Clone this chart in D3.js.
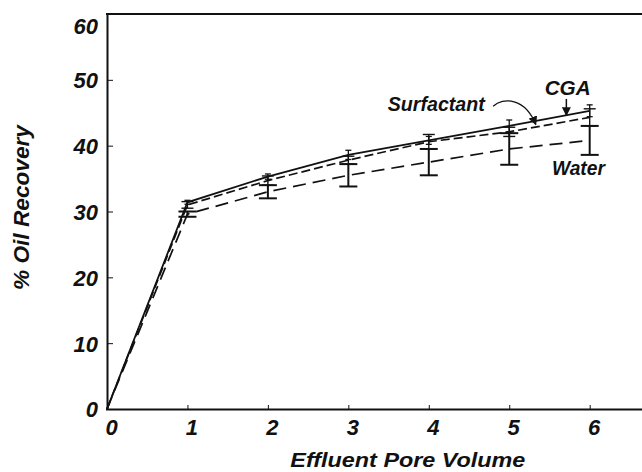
<!DOCTYPE html>
<html>
<head>
<meta charset="utf-8">
<script src="https://cdn.jsdelivr.net/npm/d3@7/dist/d3.min.js"></script>
<style>
  html, body { margin: 0; padding: 0; background: #fff; }
  svg { display: block; }
  text { font-family: "Liberation Sans", Arial, Helvetica, sans-serif; font-weight: bold; font-style: italic; fill: #111; }
</style>
</head>
<body>
<svg id="chart" width="642" height="472"></svg>
<script>
// ---- data ----
const poreVolume = [0, 1, 2, 3, 4, 5, 6];
const cgaValues = [0, 31.4, 35.3, 38.6, 40.8, 43.0, 45.3];
const cgaErrors = [0, 0.3, 0.4, 0.7, 0.6, 0.9, 0.9];
const surfactantValues = [0, 31.0, 34.7, 37.8, 40.6, 42.1, 44.3];
const surfactantErrors = [0, 0.5, 0.7, 0.6, 1.1, 0.7, 1.3];
const waterValues = [0, 29.6, 33.0, 35.5, 37.5, 39.5, 40.8];
const waterErrors = [0, 0.4, 1.0, 1.7, 2.0, 2.4, 2.2];
const xTicks = [0, 1, 2, 3, 4, 5, 6];
const yTicks = [0, 10, 20, 30, 40, 50, 60];
const xTitle = "Effluent Pore Volume";
const yTitle = "% Oil Recovery";

// ---- layout ----
const svg = d3.select("#chart");
const x = d3.scaleLinear().domain([0, 6.7]).range([107, 646]);
const y = d3.scaleLinear().domain([0, 60]).range([409, 14]);
const ink = "#111";

// arrow marker
svg.append("defs").append("marker")
  .attr("id", "ah").attr("viewBox", "0 0 10 10")
  .attr("refX", 9).attr("refY", 5)
  .attr("markerWidth", 9).attr("markerHeight", 9)
  .attr("markerUnits", "userSpaceOnUse")
  .attr("orient", "auto")
  .append("path").attr("d", "M0,0 L10,5 L0,10 Z").attr("fill", ink);

// top border
svg.append("line")
  .attr("x1", x(0) - 1).attr("x2", 642)
  .attr("y1", y(60)).attr("y2", y(60))
  .attr("stroke", ink).attr("stroke-width", 2);

// axes
const yAxis = svg.append("g").attr("transform", `translate(${x(0)},0)`)
  .call(d3.axisLeft(y).tickValues(yTicks).tickFormat(d3.format("d"))
    .tickSizeInner(-6).tickSizeOuter(0).tickPadding(9));
const xAxis = svg.append("g").attr("transform", `translate(0,${y(0)})`)
  .call(d3.axisBottom(x).tickValues(xTicks).tickFormat(d3.format("d"))
    .tickSizeInner(-4).tickSizeOuter(0).tickPadding(10));

[yAxis, xAxis].forEach(g => {
  g.select(".domain").attr("stroke", ink).attr("stroke-width", 2);
  g.selectAll(".tick line").attr("stroke", ink).attr("stroke-width", 1);
  g.selectAll(".tick text")
    .attr("font-family", "Liberation Sans, Arial, sans-serif")
    .attr("font-size", 22).attr("font-weight", "bold").attr("font-style", "italic")
    .attr("fill", ink);
});
yAxis.selectAll(".tick text").attr("dy", "0.36em");
yAxis.selectAll(".tick").filter(d => d === 60).select("text").attr("dy", "0.9em");
yAxis.selectAll(".tick").filter(d => d === 60 || d === 0).select("line").remove();
xAxis.selectAll(".tick").filter(d => d === 0).select("line").remove();
xAxis.selectAll(".tick text").attr("dx", 4);
xAxis.select(".domain").attr("d", `M${x(0) - 1},0.5H642`);

// axis titles
svg.append("text")
  .attr("x", (x(2.28) + x(5.2)) / 2).attr("y", 467)
  .attr("text-anchor", "middle").attr("font-size", 20)
  .attr("textLength", 235).attr("lengthAdjust", "spacingAndGlyphs")
  .text(xTitle);
svg.append("text")
  .attr("transform", `translate(29,${(y(43.3) + y(17.9)) / 2}) rotate(-90)`)
  .attr("text-anchor", "middle").attr("font-size", 22)
  .attr("textLength", 165).attr("lengthAdjust", "spacingAndGlyphs")
  .text(yTitle);

// series
const series = [
  { name: "CGA", values: cgaValues, errors: cgaErrors, dash: null, width: 1.8, cap: 3, ebw: 1.3 },
  { name: "Surfactant", values: surfactantValues, errors: surfactantErrors, dash: "9,4", width: 1.7, cap: 6, ebw: 1.4 },
  { name: "Water", values: waterValues, errors: waterErrors, dash: "13,7", width: 1.7, cap: 9, ebw: 2 }
];

const line = d3.line().x((d, i) => x(poreVolume[i])).y(d => y(d));

series.forEach(s => {
  svg.append("path")
    .attr("d", line(s.values))
    .attr("fill", "none").attr("stroke", ink)
    .attr("stroke-width", s.width)
    .attr("stroke-dasharray", s.dash);

  const eb = svg.append("g");
  s.values.forEach((v, i) => {
    const e = s.errors[i];
    if (!e) return;
    const cx = x(poreVolume[i]);
    eb.append("line").attr("x1", cx).attr("x2", cx)
      .attr("y1", y(v + e)).attr("y2", y(v - e))
      .attr("stroke", ink).attr("stroke-width", s.ebw);
    [v + e, v - e].forEach(t => {
      eb.append("line").attr("x1", cx - s.cap).attr("x2", cx + s.cap)
        .attr("y1", y(t)).attr("y2", y(t))
        .attr("stroke", ink).attr("stroke-width", s.ebw);
    });
  });
});

// annotations (positions in data units)
svg.append("text").attr("x", x(5.44)).attr("y", y(47.7))
  .attr("font-size", 21).attr("textLength", 46).attr("lengthAdjust", "spacingAndGlyphs")
  .text("CGA");
svg.append("line")
  .attr("x1", x(5.71)).attr("x2", x(5.71))
  .attr("y1", y(47.1)).attr("y2", y(44.6))
  .attr("stroke", ink).attr("stroke-width", 1.5)
  .attr("marker-end", "url(#ah)");

svg.append("text").attr("x", x(3.49)).attr("y", y(45.3))
  .attr("font-size", 21).attr("textLength", 97).attr("lengthAdjust", "spacingAndGlyphs")
  .text("Surfactant");
const p0 = [x(4.80), y(46.0)], c1 = [x(4.92), y(47.4)], c2 = [x(5.20), y(47.3)], p1 = [x(5.33), y(43.2)];
svg.append("path")
  .attr("d", `M${p0}C${c1} ${c2} ${p1}`)
  .attr("fill", "none").attr("stroke", ink).attr("stroke-width", 1.3)
  .attr("marker-end", "url(#ah)");

svg.append("text").attr("x", x(5.53)).attr("y", y(35.5))
  .attr("font-size", 21).attr("textLength", 53).attr("lengthAdjust", "spacingAndGlyphs")
  .text("Water");
</script>
</body>
</html>
